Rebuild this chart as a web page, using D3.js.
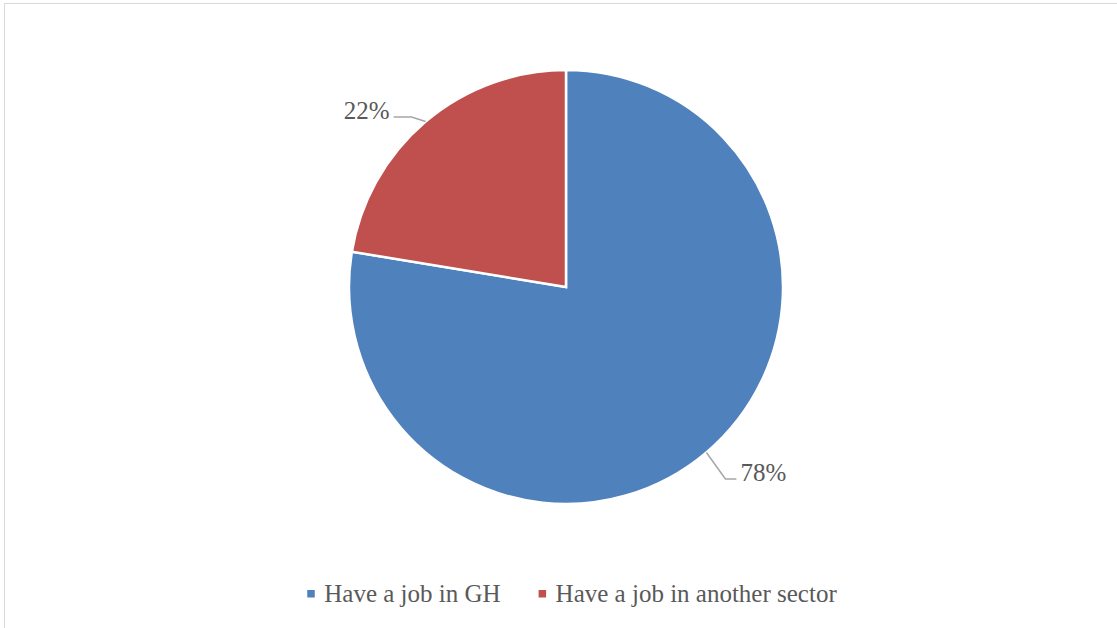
<!DOCTYPE html>
<html>
<head>
<meta charset="utf-8">
<script src="https://cdn.jsdelivr.net/npm/d3@7"></script>
<style>
  html, body { margin: 0; padding: 0; background: #fff; }
  svg { display: block; }
  text { font-family: "Liberation Serif", "Times New Roman", serif; fill: #595959; }
</style>
</head>
<body>
<svg id="chart" width="1117" height="628"></svg>
<script>
// ---- data ----
const categories = ["Have a job in GH", "Have a job in another sector"];
const values = [77.6, 22.4];
const colors = ["#4f81bd", "#c0504d"];

// ---- layout ----
const W = 1117, H = 628;
const cx = 566, cy = 287, R = 217;
const fontSize = 25;
// leader line elbow offsets relative to the slice's outer mid-point, and horizontal tail
const leader = [
  { dx: 19, dy: 26.5, tail: 11 },
  { dx: -14, dy: -4.5, tail: -18 }
];

const svg = d3.select("#chart");

// chart frame
svg.append("rect")
  .attr("x", 4.5).attr("y", 3.5)
  .attr("width", W + 10).attr("height", H + 10)
  .attr("fill", "none")
  .attr("stroke", "#d9d9d9")
  .attr("stroke-width", 1);

const data = categories.map((c, i) => ({ name: c, value: values[i], color: colors[i] }));

const pie = d3.pie().value(d => d.value).sort(null).startAngle(0).endAngle(2 * Math.PI);
const arcs = pie(data);
const arc = d3.arc().innerRadius(0).outerRadius(R);

const g = svg.append("g").attr("transform", `translate(${cx},${cy})`);

g.selectAll("path.slice")
  .data(arcs)
  .join("path")
  .attr("class", "slice")
  .attr("d", arc)
  .attr("fill", d => d.data.color)
  .attr("stroke", "#fff")
  .attr("stroke-width", 2.5)
  .attr("stroke-linejoin", "miter");

const total = d3.sum(values);
const fmt = v => Math.round(v / total * 100) + "%";

arcs.forEach((a, i) => {
  const mid = (a.startAngle + a.endAngle) / 2;
  const ex = R * Math.sin(mid), ey = -R * Math.cos(mid);
  const L = leader[i];
  const bx = ex + L.dx, by = ey + L.dy;
  const tx = bx + L.tail;
  g.append("polyline")
    .attr("points", [[ex, ey], [bx, by], [tx, by]].map(p => p.join(",")).join(" "))
    .attr("fill", "none")
    .attr("stroke", "#a6a6a6")
    .attr("stroke-width", 1.5);
  const right = L.tail > 0;
  g.append("text")
    .attr("x", tx + (right ? 4 : -4))
    .attr("y", by + 2)
    .attr("text-anchor", right ? "start" : "end")
    .attr("font-size", fontSize)
    .text(fmt(a.data.value));
});

// legend
const legend = svg.append("g");
const sq = 7.5, gapSqText = 9.5, gapItems = 38;
const items = legend.selectAll("g.item").data(data).join("g").attr("class", "item");
items.append("rect")
  .attr("width", sq).attr("height", sq)
  .attr("y", 590)
  .attr("fill", d => d.color);
items.append("text")
  .attr("y", 602)
  .attr("font-size", fontSize)
  .text(d => d.name);

let widths = [];
items.select("text").each(function () { widths.push(this.getComputedTextLength()); });
const totalW = d3.sum(widths.map(w => sq + gapSqText + w)) + gapItems * (data.length - 1);
let x0 = 572 - totalW / 2;
items.each(function (d, i) {
  const it = d3.select(this);
  it.select("rect").attr("x", x0);
  it.select("text").attr("x", x0 + sq + gapSqText);
  x0 += sq + gapSqText + widths[i] + gapItems;
});
</script>
</body>
</html>
